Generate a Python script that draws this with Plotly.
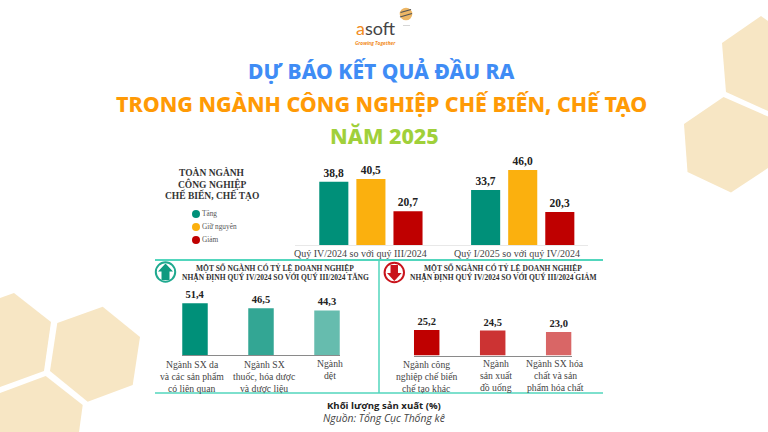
import plotly.graph_objects as go

W, H = 768, 432

# chart data
periods = ['Quý IV/2024 so với quý III/2024', 'Quý I/2025 so với quý IV/2024']
tang = [38.8, 33.7]
giu_nguyen = [40.5, 46.0]
giam = [20.7, 20.3]
legend_names = ['Tăng', 'Giữ nguyên', 'Giảm']

up_sectors = ['Ngành SX da<br>và các sản phẩm<br>có liên quan',
              'Ngành SX<br>thuốc, hóa dược<br>và dược liệu',
              'Ngành<br>dệt']
up_values = [51.4, 46.5, 44.3]

down_sectors = ['Ngành công<br>nghiệp chế biến<br>chế tạo khác',
                'Ngành<br>sản xuất<br>đồ uống',
                'Ngành SX hóa<br>chất và sản<br>phẩm hóa chất']
down_values = [25.2, 24.5, 23.0]

GREEN = '#009079'
YELLOW = '#fbb00e'
RED = '#bf0000'
TEAL = '#52d6bd'
HEX = '#f7e6c4'
SERIF = 'Liberation Serif'
TITLE_FONT = 'Noto Sans'


def px(x):
    return x / W


def py(y):
    return 1 - y / H


def comma(values):
    return [f'{v:.1f}'.replace('.', ',') for v in values]


def poly(points, color, layer='below'):
    path = 'M ' + ' L '.join(f'{px(x):.4f} {py(y):.4f}' for x, y in points) + ' Z'
    return dict(type='path', xref='paper', yref='paper', path=path, fillcolor=color,
                line=dict(width=0), layer=layer)


def circle(cx, cy, r, fill, line_color, width):
    return dict(type='circle', xref='paper', yref='paper',
                x0=px(cx - r), x1=px(cx + r), y0=py(cy + r), y1=py(cy - r),
                fillcolor=fill, line=dict(color=line_color, width=width))


def seg(x0, y0, x1, y1, color, width):
    return dict(type='line', xref='paper', yref='paper', x0=px(x0), x1=px(x1), y0=py(y0), y1=py(y1),
                line=dict(color=color, width=width))


def label(x, y, text, size, color='#333333', font=SERIF, weight=None):
    return dict(x=px(x), y=py(y), xref='paper', yref='paper', text=text, showarrow=False,
                xanchor='center', yanchor='middle', align='center',
                font=dict(family=font, size=size, color=color, weight=weight))


def title_line(y, x, text, size, color):
    return label(x, y, text, size, color, TITLE_FONT, 800)


fig = go.Figure()

# top chart
for name, values, color in zip(legend_names, [tang, giu_nguyen, giam], [GREEN, YELLOW, RED]):
    fig.add_trace(go.Bar(x=periods, y=values, name=name, marker_color=color,
                         marker_line_width=0, text=comma(values), textposition='outside',
                         textangle=0, cliponaxis=False,
                         textfont=dict(family=SERIF, size=11.5, color='#222222', weight='bold')))

# lower charts
fig.add_trace(go.Bar(x=up_sectors, y=up_values, xaxis='x2', yaxis='y2',
                     marker_color=[GREEN, '#33a694', '#66bcae'], marker_line_width=0,
                     text=comma(up_values), textposition='outside', textangle=0, cliponaxis=False,
                     textfont=dict(family=SERIF, size=10.5, color='#222222', weight='bold'), width=0.386))
fig.add_trace(go.Bar(x=down_sectors, y=down_values, xaxis='x3', yaxis='y3',
                     marker_color=[RED, '#cc3333', '#d96666'], marker_line_width=0,
                     text=comma(down_values), textposition='outside', textangle=0, cliponaxis=False,
                     textfont=dict(family=SERIF, size=10.5, color='#222222', weight='bold'), width=0.386))

# legend keys
fig.add_trace(go.Scatter(x=[0, 0, 0], y=legend_names, xaxis='x4', yaxis='y4', mode='markers+text',
                         marker=dict(size=8, color=[GREEN, YELLOW, RED]), text=legend_names,
                         textposition='middle right', cliponaxis=False,
                         textfont=dict(family=SERIF, size=7.3, color='#555555')))

hidden = dict(showgrid=False, zeroline=False, showticklabels=False, ticks='')

shapes = [
    poly([(761, 16), (722, 43), (726, 92), (768, 111), (768, 21)], HEX),
    poly([(723.5, 97), (684, 124), (687.5, 172), (731, 192.5), (768, 168), (768, 116.5)], HEX),
    poly([(0, 298), (14, 293), (51, 322), (44, 371), (0, 387)], HEX),
    poly([(57.3, 323), (102.7, 306.7), (140, 337), (132.7, 385), (87.7, 401.7), (50, 371)], HEX),
    poly([(0, 393), (45.7, 376), (82.7, 405), (79, 432), (0, 432)], HEX),
    seg(155, 260, 603, 260, TEAL, 2),
    seg(155, 393, 603, 393, TEAL, 1.5),
    seg(379, 260, 379, 393, TEAL, 1.5),
    # up icon
    circle(165.5, 272, 9.7, 'white', '#1fa98f', 2),
    poly([(165.5, 263.5), (173, 271.5), (169.5, 271.5), (169.5, 280), (161.5, 280), (161.5, 271.5), (158, 271.5)],
         '#0f9a80', 'above'),
    # down icon
    circle(394.3, 272.5, 9.7, 'white', '#c9141c', 2),
    poly([(394.3, 281), (387, 273), (390.5, 273), (390.5, 265), (398, 265), (398, 273), (401.7, 273)],
         '#c9141c', 'above'),
    # logo ball
    circle(406, 14, 6.3, '#eeb765', '#eeb765', 0),
    seg(400.5, 12.5, 411, 9.5, '#555555', 1.2),
    seg(400, 17, 412, 13.5, '#555555', 1.2),
    seg(403, 25.5, 410, 25.5, '#cccccc', 0.8),
]

annotations = [
    label(376, 28, '<span style="color:#f28c1e">a</span>soft', 18, '#444444', 'Lato'),
    label(375.5, 42.5, '<b><i>Growing Together</i></b>', 4.8, '#f28c1e', 'Open Sans'),
    title_line(71, 381, 'DỰ BÁO KẾT QUẢ ĐẦU RA', 21, '#3f8cf5'),
    title_line(103, 381, 'TRONG NGÀNH CÔNG NGHIỆP CHẾ BIẾN, CHẾ TẠO', 21.4, '#ff9a05'),
    title_line(135, 384, 'NĂM 2025', 21.5, '#a0d03a'),
    label(212, 172, '<b>TOÀN NGÀNH</b>', 9.5),
    label(212, 183.5, '<b>CÔNG NGHIỆP</b>', 9.5),
    label(212, 195, '<b>CHẾ BIẾN, CHẾ TẠO</b>', 9.5),
    label(360, 253, periods[0], 10, '#444444'),
    label(517, 253, periods[1], 10, '#444444'),
    label(275, 267.5, '<b>MỘT SỐ NGÀNH CÓ TỶ LỆ DOANH NGHIỆP</b>', 7.5),
    label(275, 277, '<b>NHẬN ĐỊNH QUÝ IV/2024 SO VỚI QUÝ III/2024 TĂNG</b>', 7.5),
    label(503, 267.5, '<b>MỘT SỐ NGÀNH CÓ TỶ LỆ DOANH NGHIỆP</b>', 7.5),
    label(503, 277, '<b>NHẬN ĐỊNH QUÝ IV/2024 SO VỚI QUÝ III/2024 GIẢM</b>', 7.5),
    label(384, 405, '<b>Khối lượng sản xuất (%)</b>', 9.6, '#222222', 'Open Sans'),
    label(384, 418, '<i>Nguồn: Tổng Cục Thống kê</i>', 10.4, '#444444', 'Open Sans'),
]
# sector names, one annotation per line to hold the tighter line pitch of the original
for x, y, text in zip([192, 264, 330] + [426, 496, 555], [364, 364, 363] + [364, 363, 363],
                      up_sectors + down_sectors):
    for i, part in enumerate(text.split('<br>')):
        annotations.append(label(x, y + i * 12, part, 9.7, '#444444'))

fig.update_layout(
    width=W,
    height=H,
    margin=dict(l=0, r=0, t=0, b=0),
    paper_bgcolor='white',
    plot_bgcolor='rgba(0,0,0,0)',
    showlegend=False,
    barmode='group',
    bargap=0.267,
    bargroupgap=0.216,
    shapes=shapes,
    annotations=annotations,
    xaxis=dict(domain=[px(295), px(588)], range=[-0.5, 1.43], showline=True, linecolor='#e8e8e8',
               linewidth=1, type='category', **hidden),
    yaxis=dict(domain=[py(245), py(163.5)], range=[0, 50], anchor='x', **hidden),
    xaxis2=dict(domain=[px(182), px(340)], range=[-0.197, 2.197], showline=True, linecolor='#8a8a8a',
                linewidth=1, type='category', anchor='y2', **hidden),
    yaxis2=dict(domain=[py(355), py(299.7)], range=[0, 55], anchor='x2', **hidden),
    xaxis3=dict(domain=[px(413.7), px(571.7)], range=[-0.197, 2.197], showline=True, linecolor='#8a8a8a',
                linewidth=1, type='category', anchor='y3', **hidden),
    yaxis3=dict(domain=[py(355.5), py(325)], range=[0, 30], anchor='x3', **hidden),
    xaxis4=dict(domain=[px(190), px(202)], range=[-1, 1], anchor='y4', **hidden),
    yaxis4=dict(domain=[py(246.5), py(207.5)], range=[2.5, -0.5], type='category', anchor='x4', **hidden),
)

# the page's default body margin would push the figure 8px off
fig.write_html('out.html', config=dict(displayModeBar=False),
               post_script="document.body.style.margin='0';")
